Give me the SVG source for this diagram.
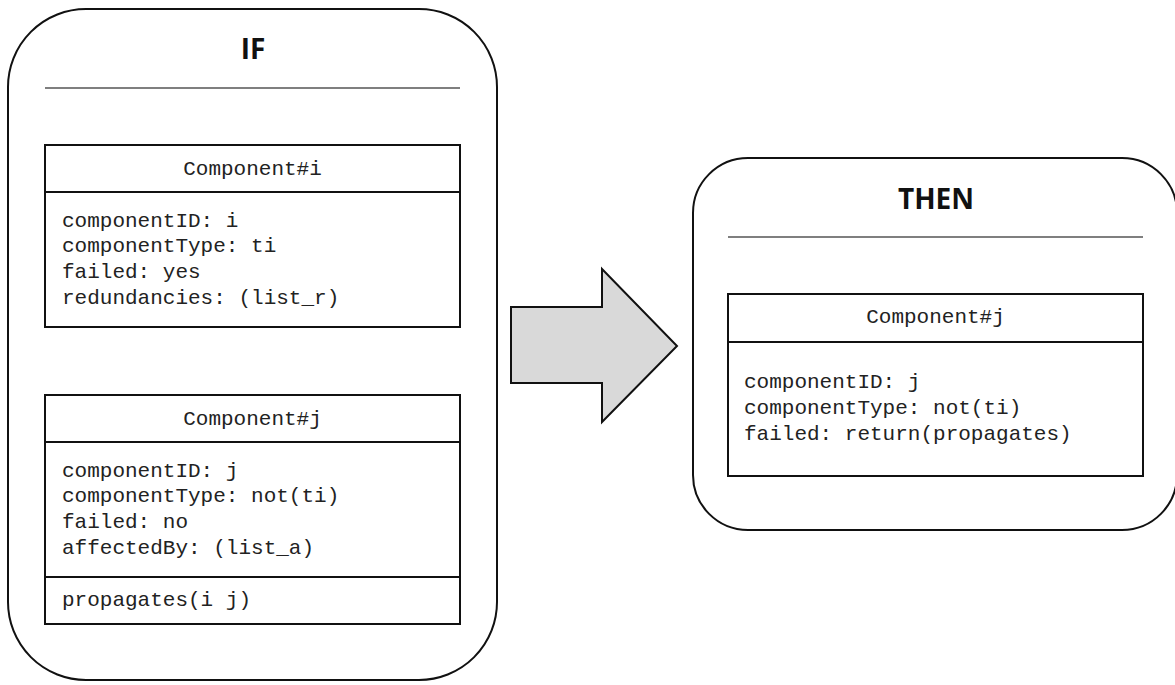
<svg xmlns="http://www.w3.org/2000/svg" width="1175" height="685" viewBox="0 0 1175 685">
<style>
.frame{fill:#fff;stroke:#111;stroke-width:2}
.rule{stroke:#555;stroke-width:1.5}
.box{fill:#fff;stroke:#111;stroke-width:2}
.sep{stroke:#111;stroke-width:2}
.title{font-family:"Open Sans","Liberation Sans",sans-serif;font-weight:bold;font-size:28px;fill:#111;text-anchor:middle}
.mono{font-family:"Liberation Mono","Courier New",monospace;font-size:21px;fill:#222}
.hdr{text-anchor:middle}
</style>
<rect width="1175" height="685" fill="#fff"/>
<g id="if-frame">
<rect class="frame" x="8" y="9" width="489" height="671" rx="78" ry="78"/>
<text class="title" x="253" y="59">IF</text>
<line class="rule" x1="45" y1="88" x2="460" y2="88"/>
</g>
<g id="component-i">
<rect class="box" x="45" y="145" width="415" height="182"/>
<line class="sep" x1="45" y1="192" x2="460" y2="192"/>
<text class="mono hdr" x="252.5" y="175">Component#i</text>
<text class="mono" x="62" y="227">componentID: i</text>
<text class="mono" x="62" y="252">componentType: ti</text>
<text class="mono" x="62" y="278">failed: yes</text>
<text class="mono" x="62" y="304">redundancies: (list_r)</text>
</g>
<g id="component-j-if">
<rect class="box" x="45" y="395" width="415" height="229"/>
<line class="sep" x1="45" y1="442" x2="460" y2="442"/>
<line class="sep" x1="45" y1="577" x2="460" y2="577"/>
<text class="mono hdr" x="252.5" y="425">Component#j</text>
<text class="mono" x="62" y="477">componentID: j</text>
<text class="mono" x="62" y="502">componentType: not(ti)</text>
<text class="mono" x="62" y="528">failed: no</text>
<text class="mono" x="62" y="554">affectedBy: (list_a)</text>
<text class="mono" x="62" y="606">propagates(i j)</text>
</g>
<g id="connectors">
<polygon points="511,307 602,307 602,269 677,346 602,422 602,383 511,383" fill="#d9d9d9" stroke="#111" stroke-width="2" stroke-linejoin="miter"/>
</g>
<g id="then-frame">
<rect class="frame" x="693" y="158" width="484" height="372" rx="55" ry="55"/>
<text class="title" x="936" y="209">THEN</text>
<line class="rule" x1="728" y1="237" x2="1143" y2="237"/>
</g>
<g id="component-j-then">
<rect class="box" x="728" y="294" width="415" height="182"/>
<line class="sep" x1="728" y1="342" x2="1143" y2="342"/>
<text class="mono hdr" x="935.5" y="323">Component#j</text>
<text class="mono" x="744" y="388">componentID: j</text>
<text class="mono" x="744" y="414">componentType: not(ti)</text>
<text class="mono" x="744" y="440">failed: return(propagates)</text>
</g>
</svg>
